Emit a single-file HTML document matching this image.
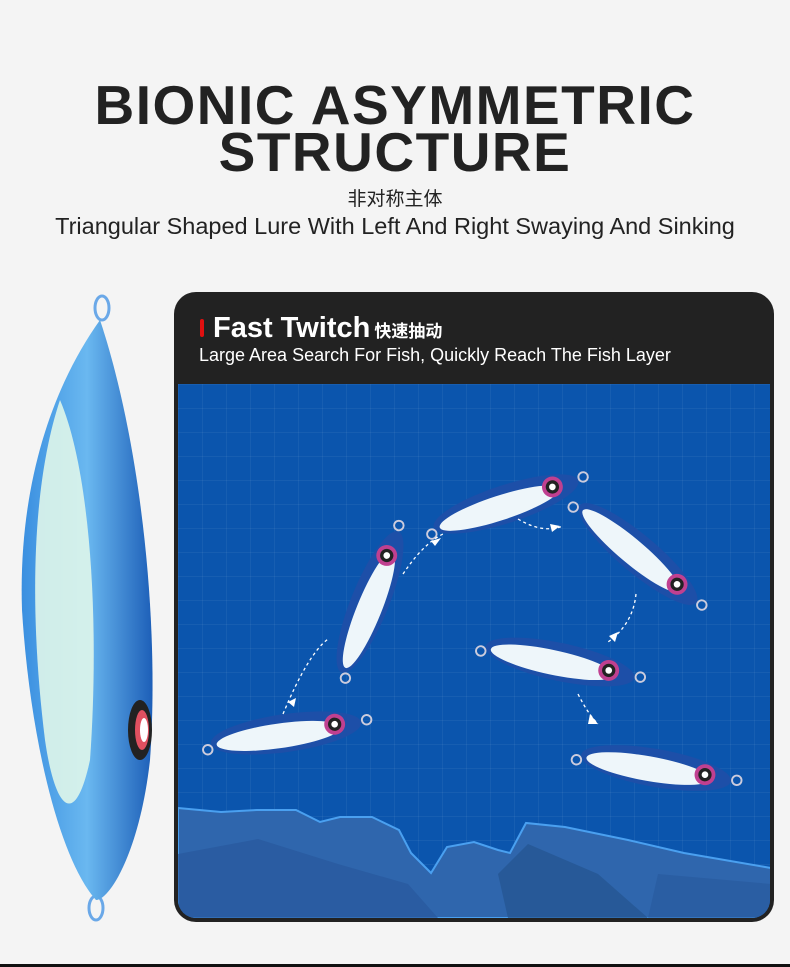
<!DOCTYPE html>
<html><head><meta charset="utf-8"><style>
html,body{margin:0;padding:0}
body{width:790px;height:967px;background:#f4f4f4;position:relative;overflow:hidden;font-family:"Liberation Sans","Noto Sans CJK SC",sans-serif}
.t1{position:absolute;left:0;width:790px;text-align:center;font-weight:bold;font-size:55px;color:#222;line-height:1;letter-spacing:1.5px}
.cn{position:absolute;left:0;width:790px;text-align:center;font-size:19px;color:#222;top:184px}
.sub{position:absolute;left:0;width:790px;text-align:center;font-size:23.5px;color:#222;top:213px}
.card{position:absolute;left:174px;top:292px;width:600px;height:630px;background:#222;border-radius:22px;overflow:hidden}
.blue{position:absolute;left:4px;top:92px;width:592px;height:534px;background:#0b55ad;border-radius:0 0 18px 18px;overflow:hidden;
background-image:linear-gradient(rgba(255,255,255,.05) 1px,transparent 1px),linear-gradient(90deg,rgba(255,255,255,.05) 1px,transparent 1px);background-size:24px 24px}
.h{position:absolute;left:39px;top:20px;color:#fff;font-weight:bold;font-size:29px}
.h small{font-size:17px;margin-left:4px}
.bar{position:absolute;left:26px;top:27px;width:4px;height:18px;background:#e01010;border-radius:2px}
.d{position:absolute;left:25px;top:53px;color:#fff;font-size:18px}
.bot{position:absolute;left:0;top:964px;width:790px;height:3px;background:#111}
</style></head><body>
<div class="t1" style="top:78px">BIONIC ASYMMETRIC</div>
<div class="t1" style="top:125px">STRUCTURE</div>
<div class="cn">非对称主体</div>
<div class="sub">Triangular Shaped Lure With Left And Right Swaying And Sinking</div>

<svg style="position:absolute;left:0;top:290px" width="170" height="640">
<defs><linearGradient id="lg" x1="0" x2="1"><stop offset="0" stop-color="#3a8fe0"/><stop offset=".5" stop-color="#6ab8f0"/><stop offset="1" stop-color="#1d5fb8"/></linearGradient></defs>
<ellipse cx="102" cy="18" rx="7" ry="12" fill="none" stroke="#6aa8e8" stroke-width="3"/>
<ellipse cx="96" cy="618" rx="7" ry="12" fill="none" stroke="#6aa8e8" stroke-width="3"/>
<path d="M100 30 C140 150 160 330 150 470 C140 560 110 610 96 610 C60 570 30 450 22 320 C18 200 50 100 100 30Z" fill="url(#lg)"/>
<path d="M60 110 C90 180 100 330 90 470 C75 540 55 520 45 450 C30 330 30 200 60 110Z" fill="#dff6ea" opacity=".9"/>
<ellipse cx="140" cy="440" rx="12" ry="30" fill="#222"/>
<ellipse cx="142" cy="440" rx="7" ry="20" fill="#e05060"/>
<ellipse cx="144" cy="440" rx="4" ry="12" fill="#fff"/>
</svg>

<div class="card">
<div class="bar"></div>
<div class="h">Fast Twitch<small>快速抽动</small></div>
<div class="d">Large Area Search For Fish, Quickly Reach The Fish Layer</div>
<div class="blue">
<svg width="592" height="534" style="position:absolute;left:0;top:0">
<defs>
<g id="f">
<ellipse cx="0" cy="0" rx="80" ry="20" fill="#1d4fa8"/>
<ellipse cx="-8" cy="2" rx="66" ry="13" fill="#eef6fa"/>
<circle cx="52" cy="-2" r="11" fill="#c04090"/>
<circle cx="52" cy="-2" r="7" fill="#222"/>
<circle cx="52" cy="-2" r="3.5" fill="#fff"/>
<circle cx="86" cy="-2" r="5" fill="none" stroke="#ccd" stroke-width="2"/>
<circle cx="-84" cy="6" r="5" fill="none" stroke="#ccd" stroke-width="2"/>
</g></defs>
<path d="M0 424 L43 428 L79 426 L118 426 L142 438 L162 433 L194 433 L221 446 L233 469 L253 489 L269 463 L296 458 L320 466 L332 469 L348 439 L387 443 L450 456 L506 469 L593 484 L593 534 L0 534Z" fill="#2f66ad" stroke="#4aa0f0" stroke-width="2"/>
<path d="M0 470 L80 455 L160 480 L230 500 L260 534 L0 534Z" fill="#28599c" opacity=".7"/>
<path d="M350 460 L420 490 L470 534 L330 534 L320 490Z" fill="#24548f" opacity=".7"/>
<path d="M480 490 L593 500 L593 534 L470 534Z" fill="#28599c" opacity=".6"/>
<use href="#f" transform="translate(108 349) rotate(-8) scale(.95)"/>
<use href="#f" transform="translate(192 218) rotate(-68) scale(.95)"/>
<use href="#f" transform="translate(328 120) rotate(-18) scale(.95)"/>
<use href="#f" transform="translate(460 170) rotate(40) scale(.95)"/>
<use href="#f" transform="translate(382 278) rotate(12) scale(.95)"/>
<use href="#f" transform="translate(478 384) rotate(10) scale(.95)"/>
<g fill="none" stroke="#fff" stroke-width="1.3" stroke-dasharray="3 3">
<path d="M105 330 Q130 270 150 255"/><path d="M225 190 Q245 160 265 150"/>
<path d="M340 135 Q365 150 385 142"/><path d="M458 210 Q455 240 430 258"/>
<path d="M400 310 Q410 330 420 340"/>
</g>
<g fill="#fff"><path d="M110 318 l8 -4 -2 9z"/><path d="M253 157 l10 -3 -6 8z"/><path d="M372 140 l10 2 -8 6z"/><path d="M440 248 l-3 10 -6 -6z"/><path d="M412 330 l8 10 -10 0z"/></g>
</svg>
</div>
</div>
<div class="bot"></div>
</body></html>
